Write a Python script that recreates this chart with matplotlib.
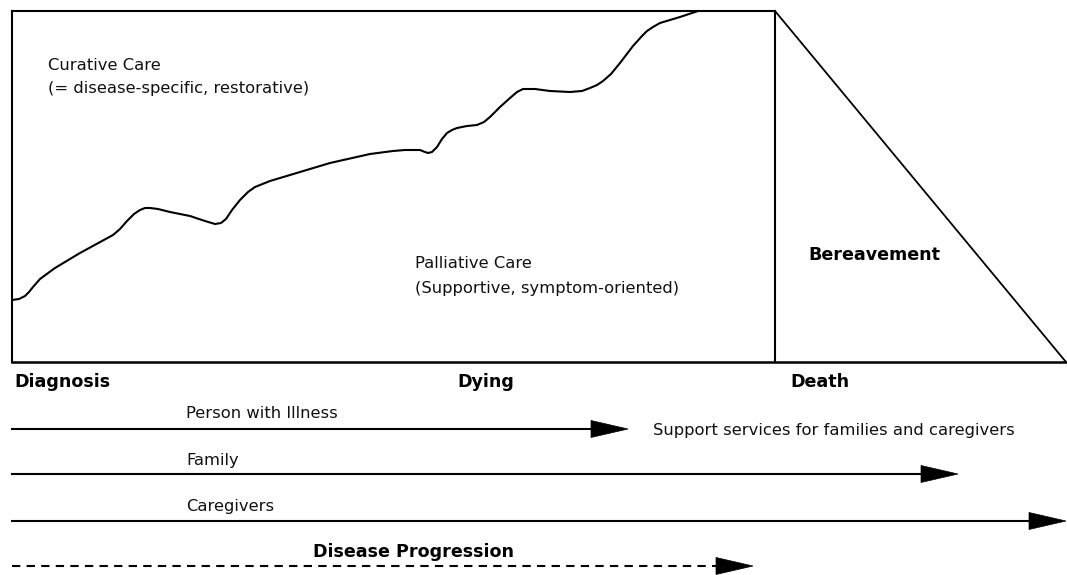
import matplotlib.pyplot as plt

# ================================================
# DATA (pixel-like diagram coordinates, y grows downwards)
# ================================================
W, H = 1067, 575

# curative / palliative boundary
curve_x = [12, 19, 25, 29, 33, 40, 55, 80, 113, 120, 127, 134, 140, 145, 150, 158,
           170, 190, 205, 215, 221, 226, 232, 240, 248, 255, 270, 290, 330, 370,
           393, 405, 413, 420, 425, 428, 432, 437, 442, 447, 452, 457, 467, 477,
           484, 490, 500, 510, 517, 523, 535, 550, 570, 582, 590, 597, 603, 611,
           620, 633, 642, 647, 653, 660, 670, 680, 698]
curve_y = [300, 299, 296, 292, 287, 279, 268, 253, 235, 229, 221, 214, 210, 208, 208, 209,
           212, 216, 221, 224, 223, 219, 210, 200, 192, 187, 181, 175, 163, 154,
           151, 150, 150, 150, 152, 153, 152, 147, 139, 133, 130, 128, 126, 125,
           122, 117, 107, 98, 92, 89, 89, 91, 92, 91, 88, 85, 81, 74,
           63, 46, 36, 31, 27, 23, 20, 17, 11]

# frame: left, top, death line, bottom
box_left, box_top, death_x, box_bottom = 12, 11, 775, 362

# timeline labels
stage_labels = ["Diagnosis", "Dying", "Death"]
stage_x = [14, 457, 790]

# arrows: who is supported and until when
arrow_labels = ["Person with Illness", "Family", "Caregivers", "Disease Progression"]
arrow_label_x = [186, 186, 186, 313]
arrow_label_y = [414, 461, 507, 552]
arrow_y = [429, 474, 521, 566]
arrow_end = [628, 958, 1066, 753]
arrow_dashed = [False, False, False, True]
arrow_bold = [False, False, False, True]

HEAD_LEN, HEAD_W = 37, 17
LW = 1.5


def main():
    fig = plt.figure(figsize=(W / 100, H / 100), dpi=100)
    ax = fig.add_axes([0, 0, 1, 1])
    ax.set_xlim(0, W)
    ax.set_ylim(H, 0)
    ax.axis("off")

    # frame and bereavement triangle
    ax.plot([box_left, death_x], [box_top, box_top], color="black", lw=LW)
    ax.plot([box_left, box_left], [box_top, box_bottom], color="black", lw=LW)
    ax.plot([death_x, death_x], [box_top, box_bottom], color="black", lw=LW)
    ax.plot([box_left, W], [box_bottom, box_bottom], color="black", lw=1.8)
    ax.plot([death_x, W - 1], [box_top, box_bottom], color="black", lw=1.3)

    # curve
    ax.plot(curve_x, curve_y, color="black", lw=1.5, solid_joinstyle="round",
            solid_capstyle="round")

    reg = dict(family="DejaVu Sans", fontsize=11.8, color="#111111")
    bold = dict(family="DejaVu Sans", fontsize=12.6, fontweight="bold", color="black")

    ax.text(48, 65, "Curative Care", va="center", **reg)
    ax.text(48, 89, "(= disease-specific, restorative)", va="center", **reg)
    ax.text(415, 264, "Palliative Care", va="center", **reg)
    ax.text(415, 288, "(Supportive, symptom-oriented)", va="center", **reg)
    ax.text(808, 255, "Bereavement", va="center", **bold)

    for lab, x in zip(stage_labels, stage_x):
        ax.text(x, 382, lab, va="center", **bold)

    ax.text(653, 430, "Support services for families and caregivers", va="center", **reg)

    for lab, lx, ly, y, x1, dashed, b in zip(arrow_labels, arrow_label_x, arrow_label_y,
                                             arrow_y, arrow_end, arrow_dashed, arrow_bold):
        ax.text(lx, ly, lab, va="center", **(bold if b else reg))
        ax.plot([box_left, x1 - HEAD_LEN + 2], [y, y], color="black", lw=LW,
                linestyle=(0, (4, 3)) if dashed else "-")
        ax.arrow(x1 - HEAD_LEN, y, HEAD_LEN, 0, width=0.01, head_width=HEAD_W,
                 head_length=HEAD_LEN, length_includes_head=True,
                 fc="black", ec="black", lw=0.5)

    fig.savefig("out.png", dpi=100)
    plt.close(fig)


if __name__ == "__main__":
    main()
